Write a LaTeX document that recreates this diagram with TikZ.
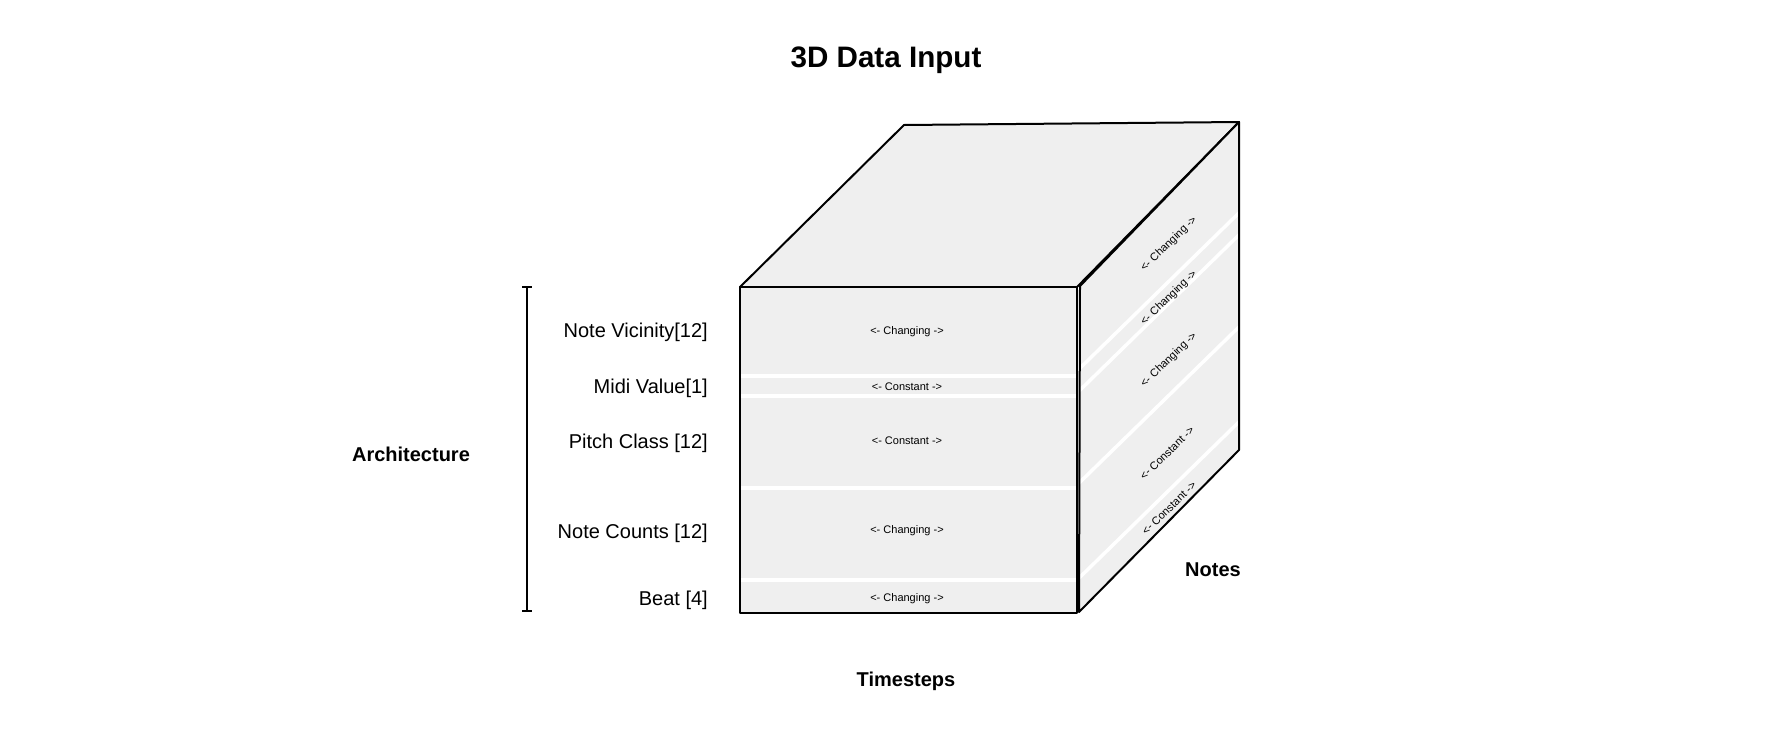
\documentclass[tikz,border=0pt]{standalone}
\usepackage{fontspec}
\setmainfont{Liberation Sans}
\definecolor{cubegray}{HTML}{EFEFEF}

\begin{document}
\begin{tikzpicture}[x=1pt, y=-1pt,
    face/.style={fill=cubegray, draw=black, line width=2pt, line join=round},
    rim/.style={draw=black, line width=2pt, line join=round},
    band/.style={white, line width=3.5pt},
    lbl/.style={anchor=east, inner sep=0pt, font=\fontsize{20}{24}\selectfont},
    tag/.style={inner sep=0pt, font=\fontsize{11}{13}\selectfont},
    axis/.style={inner sep=0pt, font=\bfseries\fontsize{20}{24}\selectfont}]
	\useasboundingbox (0,0) rectangle (1792,750);

	% corners of the cube
	\coordinate (fTL) at (740,287);
	\coordinate (fTR) at (1077,287);
	\coordinate (fBR) at (1077,613);
	\coordinate (fBL) at (740,613);
	\coordinate (sTL) at (1080,286);
	\coordinate (sBL) at (1079,612);
	\coordinate (bTL) at (904,125);
	\coordinate (bTR) at (1239,122);
	\coordinate (bBR) at (1239,450);

	% top face
	\draw[face] (fTL) -- (bTL) -- (bTR) -- (fTR) -- cycle;

	% side face
	\fill[cubegray] (sTL) -- (bTR) -- (bBR) -- (sBL) -- cycle;
	\begin{scope}
		\clip (sTL) -- (bTR) -- (bBR) -- (sBL) -- cycle;
		\foreach \y in {371,393,485,580}
			\draw[band] (1075,\y+2) -- ++(170,-166);
	\end{scope}
	\draw[rim] (sTL) -- (bTR) -- (bBR) -- (sBL) -- cycle;
	\node[tag, rotate=44] (sNV) at (1169,244) {<- Changing ->};
	\node[tag, rotate=44] (sMV) at (1169,298) {<- Changing ->};
	\node[tag, rotate=44] (sPC) at (1169,360) {<- Changing ->};
	\node[tag, rotate=44] (sNC) at (1167,453) {<- Constant ->};
	\node[tag, rotate=44] (sBT) at (1169,508) {<- Constant ->};

	% front face
	\fill[cubegray] (fTL) rectangle (fBR);
	\foreach \y in {376,396,488,580}
		\draw[band] (fTL |- 0,\y) -- (fTR |- 0,\y);
	\draw[rim] (fTL) rectangle (fBR);
	\node[tag] (fNV) at (907,332) {<- Changing ->};
	\node[tag] (fMV) at (907,387) {<- Constant ->};
	\node[tag] (fPC) at (907,441) {<- Constant ->};
	\node[tag] (fNC) at (907,531) {<- Changing ->};
	\node[tag] (fBT) at (907,599) {<- Changing ->};

	% feature names and bracket
	\node[lbl] (nv) at (708,332) {Note Vicinity[12]};
	\node[lbl] (mv) at (708,388) {Midi Value[1]};
	\node[lbl] (pc) at (708,443) {Pitch Class [12]};
	\node[lbl] (nc) at (708,533) {Note Counts [12]};
	\node[lbl] (bt) at (708,600) {Beat [4]};
	\coordinate (brTop) at (527,287);
	\coordinate (brBot) at (527,611);
	\draw[line width=2pt] (brTop) -- (brBot);
	\draw[line width=2pt] ([xshift=-5pt]brTop) -- ([xshift=5pt]brTop);
	\draw[line width=2pt] ([xshift=-5pt]brBot) -- ([xshift=5pt]brBot);

	% axis names
	\node[inner sep=0pt, font=\bfseries\fontsize{29.6}{34}\selectfont] (title) at (886,60) {3D Data Input};
	\node[axis] (arch) at (411,454) {Architecture};
	\node[axis] (time) at (906,681) {Timesteps};
	\node[axis] (notes) at (1213,570) {Notes};
\end{tikzpicture}
\end{document}
